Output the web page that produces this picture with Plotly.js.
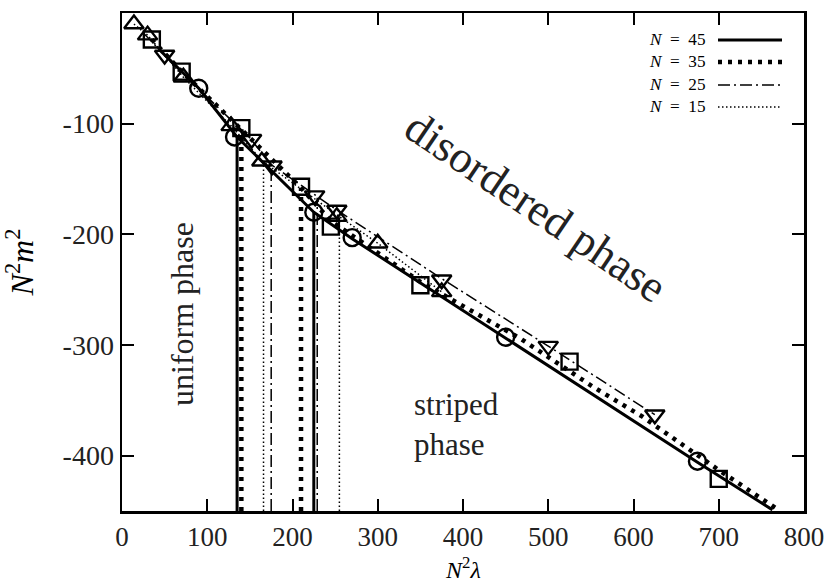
<!DOCTYPE html>
<html>
<head>
<meta charset="utf-8">
<script src="https://cdn.plot.ly/plotly-3.0.1.min.js"></script>
<style>
html,body{margin:0;padding:0;background:#fff;}
#chart{width:830px;height:585px;}
</style>
</head>
<body>
<div id="chart"></div>
<script>
// ---- data ----
const seriesNames = ['N = 45', 'N = 35', 'N = 25', 'N = 15'];

// curves
const curve45X = [45, 90, 135, 180, 225, 270, 450, 675, 763];
const curve45Y = [-34, -68, -112, -146, -180, -204, -294, -406, -449];
const curve35X = [35, 70, 105, 140, 175, 210, 245, 280, 350, 467, 553, 611, 700, 768];
const curve35Y = [-24, -53, -79, -105, -132, -158, -188, -206, -243, -294, -338, -365, -413, -448];
const curve25X = [25, 50, 100, 150, 175, 225, 250, 375, 500, 625];
const curve25Y = [-18, -38, -76, -113, -137, -164, -177, -240, -301, -363];
const curve15X = [14, 30, 72, 128, 165, 255, 300, 375];
const curve15Y = [-10, -20, -58, -102, -134, -184, -208, -252];

// markers
const circleX = [90, 132, 225, 270, 450, 675];
const circleY = [-68, -112, -180, -203, -293, -405];
const squareX = [35, 70, 140, 210, 245, 350, 525, 700];
const squareY = [-24, -53, -104, -157, -193, -246, -315, -421];
const triDownX = [50, 152, 176, 226, 252, 375, 500, 625];
const triDownY = [-38, -114, -138, -165, -178, -241, -301, -363];
const triUpX = [14, 30, 72, 128, 164, 252, 300, 375];
const triUpY = [-10, -20, -58, -102, -134, -184, -208, -252];

// phase-transition vertical lines
const trans45X = [135, 225], trans45Top = [-112, -180];
const trans35X = [140, 210], trans35Top = [-105, -158];
const trans25X = [175, 229], trans25Top = [-137, -167];
const trans15X = [166, 255], trans15Top = [-134, -184];
const yBottom = -450;

// axis ticks
const xTickVals = [0, 100, 200, 300, 400, 500, 600, 700, 800];
const xTickText = ['0', '100', '200', '300', '400', '500', '600', '700', '800'];
const yTickVals = [0, -100, -200, -300, -400];
const yTickText = ['0', '-100', '-200', '-300', '-400'];

// ---- styles ----
const styles = [
  {width: 3, dash: 'solid'},
  {width: 4.5, dash: '4px,6px'},
  {width: 1.5, dash: '12px,4px,2px,4px'},
  {width: 1.5, dash: '1.5px,2.5px'}
];

function vlines(xs, tops) {
  const x = [], y = [];
  xs.forEach((v, i) => { x.push(v, v, null); y.push(yBottom, tops[i], null); });
  return {x, y};
}

const traces = [];
const trans = [[trans45X, trans45Top], [trans35X, trans35Top], [trans25X, trans25Top], [trans15X, trans15Top]];
trans.forEach((t, i) => {
  const v = vlines(t[0], t[1]);
  traces.push({x: v.x, y: v.y, mode: 'lines', showlegend: false, hoverinfo: 'skip',
    line: {color: '#000', width: styles[i].width, dash: styles[i].dash}});
});
const curves = [[curve45X, curve45Y], [curve35X, curve35Y], [curve25X, curve25Y], [curve15X, curve15Y]];
curves.forEach((c, i) => {
  traces.push({x: c[0], y: c[1], mode: 'lines', name: seriesNames[i], showlegend: false,
    line: {color: '#000', width: styles[i].width, dash: styles[i].dash}});
});
const markerSets = [
  [circleX, circleY, 'circle-open', 17],
  [squareX, squareY, 'square-open', 16],
  [triDownX, triDownY, 'triangle-down-open', 17],
  [triUpX, triUpY, 'triangle-up-open', 17]
];
markerSets.forEach((m) => {
  traces.push({x: m[0], y: m[1], mode: 'markers', showlegend: false,
    marker: {symbol: m[2], size: m[3], color: '#000', line: {color: '#000', width: 2.4}}});
});

const serif = "'Liberation Serif', 'Times New Roman', serif";

// legend (drawn manually: text on the left, line sample on the right)
const px = (p) => (p - 122) / 682;
const py = (p) => (511 - p) / 498;
const legendY = [40, 62, 85, 107];
const annotations = [];
const shapes = [];
annotations.push({xref: 'paper', yref: 'paper', x: px(707), y: py(73.5),
  xanchor: 'right', yanchor: 'middle', align: 'right', showarrow: false, borderpad: 0,
  text: seriesNames.map(n => '<i>N</i>  =  ' + n.split('= ')[1]).join('<br>'),
  font: {family: serif, size: 17.2, color: '#000'}});
seriesNames.forEach((n, i) => {
  shapes.push({type: 'line', xref: 'paper', yref: 'paper', x0: px(718), x1: px(782),
    y0: py(legendY[i]), y1: py(legendY[i]),
    line: {color: '#000', width: styles[i].width, dash: styles[i].dash}});
});

annotations.push({xref: 'paper', yref: 'paper', x: px(536), y: py(207), xanchor: 'center', yanchor: 'middle',
  showarrow: false, textangle: 34, text: 'disordered phase', font: {family: serif, size: 45, color: '#222'}});
annotations.push({xref: 'paper', yref: 'paper', x: px(182), y: py(314), xanchor: 'center', yanchor: 'middle',
  showarrow: false, textangle: -90, text: 'uniform phase', font: {family: serif, size: 32, color: '#222'}});
annotations.push({xref: 'paper', yref: 'paper', x: px(412), y: py(424), xanchor: 'left', yanchor: 'middle',
  showarrow: false, align: 'left', text: 'striped<br>phase', font: {family: serif, size: 31, color: '#222'}});
// x-axis title
annotations.push({xref: 'paper', yref: 'paper', x: px(463), y: py(584), xanchor: 'center', yanchor: 'bottom',
  showarrow: false, borderpad: 0, text: '<i>N</i><sup>2</sup><i>λ</i>', font: {family: serif, size: 24, color: '#000'}});

const axisCommon = {
  showgrid: false, zeroline: false, showline: true, linecolor: '#000', linewidth: 2.5,
  mirror: 'ticks', ticks: 'inside', ticklen: 12, tickwidth: 2, tickcolor: '#000',
  tickfont: {family: serif, size: 28, color: '#222'}
};

const layout = {
  width: 830, height: 585,
  margin: {l: 122, r: 26, t: 13, b: 74},
  paper_bgcolor: '#fff', plot_bgcolor: '#fff',
  showlegend: false,
  xaxis: Object.assign({}, axisCommon, {
    range: [0, 800], tickmode: 'array', tickvals: xTickVals, ticktext: xTickText,
    tickfont: {family: serif, size: 27, color: '#222'}
  }),
  yaxis: Object.assign({}, axisCommon, {
    range: [-450, 0], tickmode: 'array', tickvals: yTickVals, ticktext: yTickText,
    title: {text: '<i>N</i><sup>2</sup><i>m</i><sup>2</sup>', font: {family: serif, size: 32, color: '#000'}, standoff: 20}
  }),
  annotations: annotations,
  shapes: shapes
};

Plotly.newPlot('chart', traces, layout, {displayModeBar: false, staticPlot: true});
</script>
</body>
</html>
